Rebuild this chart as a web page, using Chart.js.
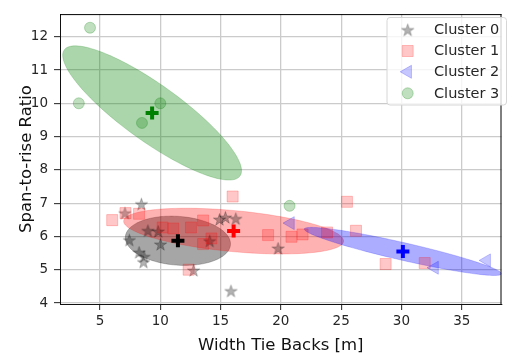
<!DOCTYPE html>
<html><head><meta charset="utf-8">
<script src="https://cdn.jsdelivr.net/npm/chart.js@4"></script>
<style>html,body{margin:0;padding:0;background:#fff}#wrap{width:512px;height:356px}</style>
</head><body><div id="wrap"><canvas id="c" width="512" height="356"></canvas></div>
<script>
const clusterNames = ['Cluster 0', 'Cluster 1', 'Cluster 2', 'Cluster 3'];
const cluster0X = [7.07, 8.43, 7.43, 8.24, 8.61, 8.65, 8.97, 9.82, 10.02, 14.1, 12.76, 14.91, 15.4, 16.26, 15.86, 19.77];
const cluster0Y = [6.70, 6.97, 5.89, 5.52, 5.23, 5.39, 6.17, 6.15, 5.76, 5.86, 4.98, 6.51, 6.57, 6.53, 4.36, 5.64];
const cluster1X = [6.01, 7.11, 8.24, 10.19, 11.08, 12.54, 13.55, 13.55, 14.24, 12.35, 16.0, 18.94, 20.88, 21.8, 23.83, 25.48, 26.23, 28.69, 31.93];
const cluster1Y = [6.49, 6.70, 6.68, 6.27, 6.24, 6.27, 6.48, 5.77, 5.94, 5.0, 7.2, 6.04, 5.99, 6.06, 6.12, 7.04, 6.17, 5.17, 5.20];
const cluster2X = [20.8, 32.75, 37.07];
const cluster2Y = [6.40, 5.06, 5.28];
const cluster3X = [4.17, 3.24, 10.0, 8.48, 20.72];
const cluster3Y = [12.27, 10.0, 10.0, 9.41, 6.92];
const centroidX = [11.46, 16.08, 30.12, 9.32];
const centroidY = [5.87, 6.16, 5.55, 9.71];
// ellipse conjugate half-axes, in data units
const ellipseMajorX = [4.36, 9.12, 8.18, 7.29];
const ellipseMajorY = [-0.120, -0.308, -0.675, -1.894];
const ellipseMinorX = [-0.154, -0.158, -0.162, -1.37];
const ellipseMinorY = [-0.731, -0.614, -0.258, -0.693];
const xTicks = [5, 10, 15, 20, 25, 30, 35];
const yTicks = [4, 5, 6, 7, 8, 9, 10, 11, 12];

const rgb = ['0,0,0', '255,0,0', '0,0,255', '0,128,0'];
const pointAlpha = [0.3, 0.22, 0.22, 0.25];
const ellipseAlpha = [0.35, 0.3, 0.32, 0.33];
const FONT = 'DejaVu Sans';

function zip(xs, ys) { return xs.map((v, i) => ({x: v, y: ys[i]})); }

function starCanvas(r, color) {
  const s = Math.ceil(r * 2 + 2);
  const c = document.createElement('canvas');
  c.width = s; c.height = s;
  const g = c.getContext('2d');
  g.beginPath();
  for (let k = 0; k < 10; k++) {
    const ang = -Math.PI / 2 + k * Math.PI / 5;
    const rr = k % 2 ? r * 0.382 : r;
    g.lineTo(s / 2 + rr * Math.cos(ang), s / 2 + rr * Math.sin(ang) + 0.5);
  }
  g.closePath();
  g.fillStyle = color; g.fill();
  g.lineWidth = 0.8; g.strokeStyle = color; g.stroke();
  return c;
}
const starImg = starCanvas(6.5, 'rgba(0,0,0,0.3)');

const ellipsePlugin = {
  id: 'ellipses',
  beforeDatasetsDraw(chart) {
    const {ctx, chartArea: a, scales: {x, y}} = chart;
    ctx.save();
    ctx.beginPath(); ctx.rect(a.left, a.top, a.right - a.left, a.bottom - a.top); ctx.clip();
    for (let i = 0; i < 4; i++) {
      const cx = x.getPixelForValue(centroidX[i]), cy = y.getPixelForValue(centroidY[i]);
      const ax = x.getPixelForValue(centroidX[i] + ellipseMajorX[i]) - cx;
      const ay = y.getPixelForValue(centroidY[i] + ellipseMajorY[i]) - cy;
      const bx = x.getPixelForValue(centroidX[i] + ellipseMinorX[i]) - cx;
      const by = y.getPixelForValue(centroidY[i] + ellipseMinorY[i]) - cy;
      ctx.beginPath();
      for (let k = 0; k <= 120; k++) {
        const t = k / 120 * 2 * Math.PI;
        const px = cx + ax * Math.cos(t) + bx * Math.sin(t);
        const py = cy + ay * Math.cos(t) + by * Math.sin(t);
        if (k === 0) ctx.moveTo(px, py); else ctx.lineTo(px, py);
      }
      ctx.closePath();
      ctx.fillStyle = 'rgba(' + rgb[i] + ',' + ellipseAlpha[i] + ')';
      ctx.fill();
      ctx.lineWidth = 1;
      ctx.strokeStyle = 'rgba(' + rgb[i] + ',' + (ellipseAlpha[i] * 0.6) + ')';
      ctx.stroke();
    }
    ctx.restore();
  }
};

const framePlugin = {
  id: 'frame',
  afterDatasetsDraw(chart) {
    const {ctx, chartArea: a} = chart;
    ctx.save();
    ctx.strokeStyle = '#000'; ctx.lineWidth = 1;
    ctx.beginPath();
    ctx.moveTo(a.left, a.top + 0.5); ctx.lineTo(a.right, a.top + 0.5);
    ctx.moveTo(a.right - 0.5, a.top); ctx.lineTo(a.right - 0.5, a.bottom);
    ctx.stroke();
    ctx.restore();
  }
};

function drawMarker(ctx, i, x, y) {
  const fill = 'rgba(' + rgb[i] + ',' + pointAlpha[i] + ')';
  ctx.fillStyle = fill; ctx.strokeStyle = fill; ctx.lineWidth = 1;
  if (i === 0) { ctx.drawImage(starImg, x - starImg.width / 2, y - starImg.height / 2); return; }
  ctx.beginPath();
  if (i === 1) { ctx.rect(x - 5.5, y - 5.5, 11, 11); }
  else if (i === 2) { const r = 7.5; ctx.moveTo(x - r, y); ctx.lineTo(x + r / 2, y - r * 0.866); ctx.lineTo(x + r / 2, y + r * 0.866); ctx.closePath(); }
  else { ctx.arc(x, y, 5.5, 0, Math.PI * 2); }
  ctx.fill(); ctx.stroke();
}

const legendPlugin = {
  id: 'insideLegend',
  afterDraw(chart) {
    const ctx = chart.ctx;
    ctx.save();
    const bx = 387, by = 17.5, bw = 119.5, bh = 87.5, r = 3;
    ctx.beginPath();
    ctx.moveTo(bx + r, by); ctx.lineTo(bx + bw - r, by); ctx.arcTo(bx + bw, by, bx + bw, by + r, r);
    ctx.lineTo(bx + bw, by + bh - r); ctx.arcTo(bx + bw, by + bh, bx + bw - r, by + bh, r);
    ctx.lineTo(bx + r, by + bh); ctx.arcTo(bx, by + bh, bx, by + bh - r, r);
    ctx.lineTo(bx, by + r); ctx.arcTo(bx, by, bx + r, by, r);
    ctx.closePath();
    ctx.fillStyle = 'rgba(255,255,255,0.8)'; ctx.fill();
    ctx.strokeStyle = '#d6d6d6'; ctx.lineWidth = 1; ctx.stroke();
    const rows = [30, 51, 71.8, 93.3];
    ctx.font = '14.5px "' + FONT + '"';
    ctx.textBaseline = 'middle'; ctx.textAlign = 'left';
    for (let i = 0; i < 4; i++) {
      drawMarker(ctx, i, 407.7, rows[i]);
      ctx.fillStyle = '#262626';
      ctx.fillText(clusterNames[i], 434, rows[i] + 0.5);
    }
    ctx.restore();
  }
};

const datasets = [];
for (let i = 0; i < 4; i++) {
  datasets.push({
    label: 'centroid ' + i, data: [{x: centroidX[i], y: centroidY[i]}],
    pointStyle: 'cross', pointRadius: 6.5, borderWidth: 4, borderColor: 'rgb(' + rgb[i] + ')', order: 0
  });
}
const clusterData = [zip(cluster0X, cluster0Y), zip(cluster1X, cluster1Y), zip(cluster2X, cluster2Y), zip(cluster3X, cluster3Y)];
const styles = [
  {pointStyle: starImg, pointRadius: 6.5},
  {pointStyle: 'rect', pointRadius: 7.8},
  {pointStyle: 'triangle', pointRadius: 7.5, pointRotation: -90},
  {pointStyle: 'circle', pointRadius: 5.5}
];
for (let i = 0; i < 4; i++) {
  const c = 'rgba(' + rgb[i] + ',' + pointAlpha[i] + ')';
  datasets.push(Object.assign({
    label: clusterNames[i], data: clusterData[i],
    backgroundColor: c, borderColor: c, borderWidth: 1, order: 10 - i
  }, styles[i]));
}

new Chart(document.getElementById('c'), {
  type: 'scatter',
  data: {datasets},
  options: {
    responsive: false, animation: false, devicePixelRatio: 1,
    layout: {padding: {left: 0, right: 0, top: 9, bottom: 0}},
    plugins: {legend: {display: false}, tooltip: {enabled: false}},
    scales: {
      x: {
        type: 'linear', min: 1.68, max: 38.3,
        afterBuildTicks: s => { s.ticks = xTicks.map(v => ({value: v})); },
        afterFit: s => { s.height = 52; },
        grid: {color: '#cbcbcb', lineWidth: 1.3, tickColor: '#222', tickLength: 6, tickWidth: 1},
        border: {color: '#111', width: 1},
        ticks: {font: {family: FONT, size: 13.5}, color: '#262626', padding: 3, maxRotation: 0, autoSkip: false},
        title: {display: true, text: 'Width Tie Backs [m]', color: '#111',
          font: {family: FONT, size: 16.5, lineHeight: 1.2}, padding: {top: 0, bottom: 0}}
      },
      y: {
        type: 'linear', min: 3.97, max: 12.68,
        afterBuildTicks: s => { s.ticks = yTicks.map(v => ({value: v})); },
        afterFit: s => { s.width = 60; },
        grid: {color: '#cbcbcb', lineWidth: 1.3, tickColor: '#222', tickLength: 6, tickWidth: 1},
        border: {color: '#111', width: 1},
        ticks: {font: {family: FONT, size: 13.5}, color: '#262626', padding: 6, autoSkip: false},
        title: {display: true, text: 'Span-to-rise Ratio', color: '#111',
          font: {family: FONT, size: 16.5, lineHeight: 1.2}, padding: {top: 17, bottom: 0}}
      }
    }
  },
  plugins: [ellipsePlugin, framePlugin, legendPlugin]
});
</script></body></html>
